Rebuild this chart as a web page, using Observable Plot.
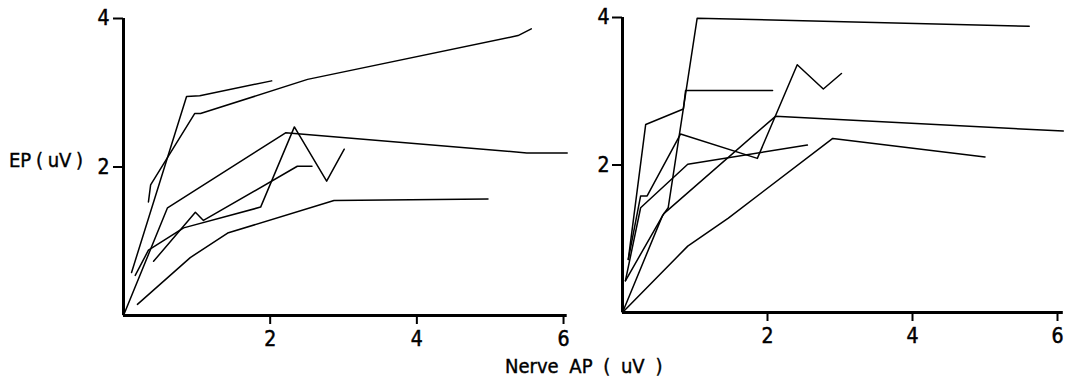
<!DOCTYPE html>
<html>
<head>
<meta charset="utf-8">
<script src="https://cdn.jsdelivr.net/npm/d3@7"></script>
<script src="https://cdn.jsdelivr.net/npm/@observablehq/plot@0.6"></script>
<style>
  html, body { margin: 0; padding: 0; background: white; }
  #wrap { position: relative; width: 1065px; height: 378px; overflow: hidden; background: white;
          font-family: "DejaVu Sans Condensed", "DejaVu Sans", sans-serif; font-stretch: condensed; color: black; }
  #wrap svg { position: absolute; top: 0; max-width: none !important; z-index: 1; }
  #wrap svg text { font-size: 21px !important; font-family: "DejaVu Sans Condensed", "DejaVu Sans", sans-serif !important; font-stretch: condensed; stroke: black; stroke-width: 0.5px; }
  #wrap svg [aria-label$="tick"] path, #wrap svg [aria-label$="axis"] line { stroke-width: 2px; }
  .lab { position: absolute; white-space: pre; line-height: 20px; z-index: 5; -webkit-text-stroke: 0.4px black; }
</style>
</head>
<body>
<div id="wrap">
  <div class="lab" id="ylab" style="left:9px; top:150px; font-size:20px; word-spacing:-1px;">EP ( uV )</div>
  <div class="lab" id="xlab" style="left:505px; top:356px; font-size:20px; word-spacing:5px;">Nerve AP ( uV )</div>
</div>
<script>
// ---- Tick values ----
const xTickValues = [2, 4, 6];
const yTickValues = [2, 4];

// ---- Left panel series: [Nerve AP (uV), EP (uV)] ----
const leftA = [[0.11, 0.58], [0.86, 2.95], [1.04, 2.96], [2.02, 3.16]];
const leftB = [[0.34, 1.53], [0.37, 1.76], [0.97, 2.72], [1.05, 2.72], [2.51, 3.18], [5.38, 3.77], [5.56, 3.86]];
const leftC = [[0, 0], [0.6, 1.45], [2.21, 2.46], [5.5, 2.19], [6.05, 2.19]];
const leftD = [[0.16, 0.54], [0.34, 0.88], [0.82, 1.18], [1.87, 1.46], [2.33, 2.54], [2.77, 1.81], [3.01, 2.24]];
const leftE = [[0.41, 0.73], [0.98, 1.39], [1.09, 1.28], [2.37, 2.01], [2.57, 2.01]];
const leftF = [[0.19, 0.15], [0.91, 0.78], [1.42, 1.11], [2.87, 1.55], [4.97, 1.57]];

// ---- Right panel series ----
const rightA = [[0, 0], [0.55, 1.31], [0.63, 1.42], [1.03, 3.99], [5.61, 3.88]];
const rightB = [[0.08, 0.72], [0.32, 2.55], [0.84, 2.76], [0.87, 3.01], [2.07, 3.01]];
const rightC = [[0.08, 0.72], [0.25, 1.58], [0.34, 1.58], [0.80, 2.42], [1.86, 2.09], [2.41, 3.36], [2.77, 3.03], [3.02, 3.24]];
const rightD = [[0.04, 0.43], [0.25, 1.42], [0.90, 2.01], [2.55, 2.27]];
const rightE = [[0, 0], [0.90, 0.90], [1.46, 1.28], [2.90, 2.36], [5.0, 2.11]];
const rightF = [[0.04, 0.43], [0.57, 1.34], [2.11, 2.66], [6.08, 2.46]];

const leftSeries = [leftA, leftB, leftC, leftD, leftE, leftF];
const rightSeries = [rightA, rightB, rightC, rightD, rightE, rightF];

const FONT = '"DejaVu Sans Condensed", "DejaVu Sans", sans-serif';

function panel(series, cfg) {
  const data = series.flatMap((s, i) => s.map(([x, y]) => ({id: i, x, y})));
  const svg = Plot.plot({
    width: cfg.width,
    height: 378,
    marginLeft: cfg.marginLeft,
    marginRight: cfg.marginRight,
    marginTop: cfg.marginTop,
    marginBottom: 378 - cfg.bottom,
    x: {domain: [0, cfg.xmax], ticks: xTickValues, tickSize: 9, tickPadding: 7, label: null, tickFormat: d => String(d)},
    y: {domain: [0, 4], ticks: yTickValues, tickSize: 10, tickPadding: cfg.yPad, label: null, tickFormat: d => String(d)},
    style: {fontFamily: FONT, fontSize: "21px", background: "transparent", color: "black", overflow: "visible"},
    marks: [
      Plot.ruleX([0], {stroke: "black", strokeWidth: 3}),
      Plot.ruleY([0], {stroke: "black", strokeWidth: 3}),
      Plot.line(data, {x: "x", y: "y", z: "id", stroke: "black", strokeWidth: 1.5})
    ]
  });
  svg.style.left = cfg.left + "px";
  return svg;
}

const wrap = document.getElementById("wrap");
wrap.appendChild(panel(leftSeries, {left: 0, width: 575, marginLeft: 123, marginRight: 8.3, marginTop: 18, bottom: 315, xmax: 6.05, yPad: 4}));
wrap.appendChild(panel(rightSeries, {left: 575, width: 490, marginLeft: 47, marginRight: 2.2, marginTop: 17, bottom: 312, xmax: 6.08, yPad: 3}));
</script>
</body>
</html>
